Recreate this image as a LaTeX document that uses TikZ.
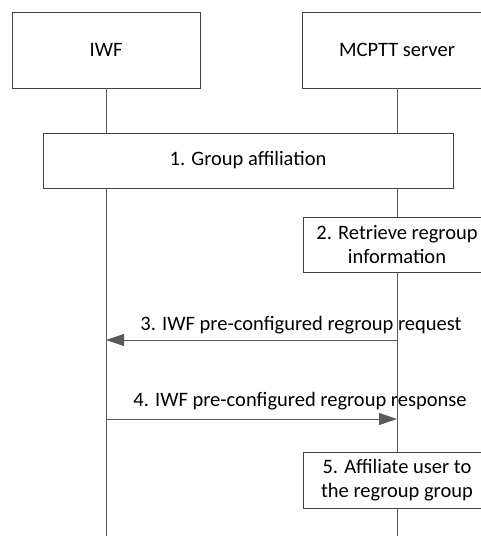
\documentclass[tikz,border=0pt]{standalone}
\usepackage{fontspec}
\setmainfont{Carlito}
\usetikzlibrary{arrows.meta}
\definecolor{boxline}{HTML}{404040}
\definecolor{lifeline}{HTML}{5A5A5A}
\begin{document}
\begin{tikzpicture}[x=1pt,y=-1pt,
  every node/.style={font=\fontsize{20.5}{24}\selectfont, text=black},
  entity/.style={draw=boxline, line width=0.8pt, fill=white, minimum width=188pt, minimum height=76pt, inner sep=0pt},
  stepbox/.style={draw=boxline, line width=0.8pt, fill=white, minimum width=188pt, minimum height=55pt, inner sep=0pt, align=center},
  life/.style={draw=lifeline, line width=0.8pt},
  msg/.style={draw=lifeline, line width=0.8pt, -{Triangle[length=18pt,width=12pt]}, color=boxline},
  lbl/.style={inner sep=0pt, anchor=base}]
\clip (0,0) rectangle (481,536);
\fill[white] (0,0) rectangle (481,536);
% entities
\node[entity] (iwf) at (106,50) {IWF};
\node[entity, minimum width=190pt] (srv) at (397,50) {MCPTT server};
% coordinates
\coordinate (iwfbot) at (106,536);
\coordinate (srvbot) at (397,536);
\coordinate (a3s) at (397,340);
\coordinate (a3e) at (106,340);
\coordinate (a4s) at (106,419);
\coordinate (a4e) at (397,419);
% lifelines (drawn first, boxes cover them)
\draw[life] (iwf.south) -- (iwfbot);
\draw[life] (srv.south) -- (srvbot);
% steps
\node[stepbox, minimum width=410pt] (s1) at (248,160.5) {1. Group affiliation};
\node[stepbox] (s2) at (397,244.5) {2. Retrieve regroup\\information};
\node[stepbox, minimum height=56pt] (s5) at (397,480) {5. Affiliate user to\\the regroup group};
% messages
\draw[msg, draw=lifeline] (a3s) -- (a3e);
\node[lbl] (l3) at (301,330) {3. IWF pre-configured regroup request};
\draw[msg, draw=lifeline] (a4s) -- (a4e);
\node[lbl] (l4) at (300,406) {4. IWF pre-configured regroup response};
\end{tikzpicture}
\end{document}
